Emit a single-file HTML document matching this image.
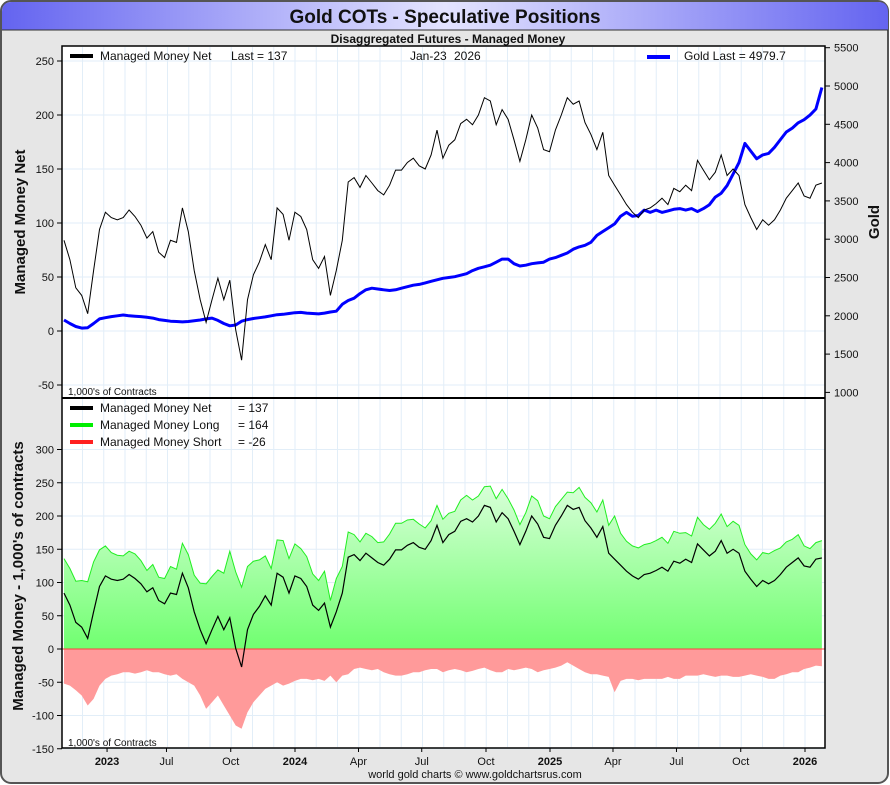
<!DOCTYPE html>
<html><head><meta charset="utf-8"><style>
html,body{margin:0;padding:0;background:#fff;}
svg{display:block;font-family:"Liberation Sans",sans-serif;}
</style></head><body>
<svg id="chart" width="890" height="785" viewBox="0 0 890 785">
<defs>
<linearGradient id="tbar" x1="0" x2="1" y1="0" y2="0">
<stop offset="0" stop-color="#6464f0"/><stop offset="0.5" stop-color="#e4e4ff"/><stop offset="1" stop-color="#6464f0"/>
</linearGradient>
<linearGradient id="gfill" x1="0" x2="0" y1="0" y2="1">
<stop offset="0" stop-color="#d8ffd8"/><stop offset="1" stop-color="#70ff70"/>
</linearGradient>
</defs>
<rect x="1" y="1" width="887" height="782" rx="10" fill="#e6e6e6" stroke="#555" stroke-width="2"/>
<path d="M2 30 L2 12 Q2 2 12 2 L878 2 Q888 2 888 12 L888 30 Z" fill="url(#tbar)"/>
<line x1="2" y1="30" x2="888" y2="30" stroke="#333" stroke-width="1"/>
<text x="445" y="23" text-anchor="middle" font-size="19" font-weight="bold" fill="#111">Gold COTs - Speculative Positions</text>
<text x="448" y="43" text-anchor="middle" font-size="12" font-weight="bold" fill="#111">Disaggregated Futures - Managed Money</text>
<rect x="62" y="46" width="763" height="702" fill="#fff"/>
<g id="gridG"></g>
<g id="bottomG"></g>
<g id="topG"></g>
<rect x="62" y="46" width="763" height="702" fill="none" stroke="#000" stroke-width="1.5"/>
<line x1="62" y1="398" x2="825" y2="398" stroke="#000" stroke-width="2"/>
<g id="axesG" font-size="11" fill="#111"></g>
<text transform="translate(25,222) rotate(-90)" text-anchor="middle" font-size="15" font-weight="bold" fill="#111">Managed Money Net</text>
<text transform="translate(879,222) rotate(-90)" text-anchor="middle" font-size="15" font-weight="bold" fill="#111">Gold</text>
<text transform="translate(23,576) rotate(-90)" text-anchor="middle" font-size="15" font-weight="bold" fill="#111">Managed Money - 1,000's of contracts</text>
<text x="68" y="395" font-size="10" fill="#111">1,000's of Contracts</text>
<text x="68" y="746" font-size="10" fill="#111">1,000's of Contracts</text>
<g font-size="12" fill="#111">
<line x1="70" y1="56" x2="93" y2="56" stroke="#000" stroke-width="4"/>
<text x="100" y="60">Managed Money Net</text>
<text x="231" y="60">Last = 137</text>
<text x="410" y="60">Jan-23</text>
<text x="454" y="60">2026</text>
<line x1="647" y1="57" x2="670" y2="57" stroke="#0000ff" stroke-width="4"/>
<text x="684" y="60">Gold Last = 4979.7</text>
</g>
<g font-size="12" fill="#111">
<line x1="70" y1="408" x2="93" y2="408" stroke="#000" stroke-width="4"/>
<text x="100" y="412">Managed Money Net</text><text x="238" y="412">= 137</text>
<line x1="70" y1="425" x2="93" y2="425" stroke="#00ee00" stroke-width="4"/>
<text x="100" y="429">Managed Money Long</text><text x="238" y="429">= 164</text>
<line x1="70" y1="442" x2="93" y2="442" stroke="#ff2020" stroke-width="4"/>
<text x="100" y="446">Managed Money Short</text><text x="238" y="446">= -26</text>
</g>
<text x="475" y="778" text-anchor="middle" font-size="11" fill="#111">world gold charts © www.goldchartsrus.com</text>
</svg>
<script>
const netValues=[84,66,40,33,16,56,94,110,105,103,105,112,106,98,86,92,73,68,84,82,114,92,56,29,8,29,49,29,47,1,-27,29,52,64,80,66,114,108,84,110,106,94,66,58,69,33,56,84,138,142,133,144,137,130,126,135,149,149,156,160,153,150,163,186,160,172,177,192,196,191,200,216,213,191,205,196,177,157,177,200,188,168,166,186,200,216,210,213,193,182,168,184,144,135,126,117,110,105,112,114,118,123,117,132,129,135,130,158,149,140,147,163,144,150,144,117,105,94,103,98,103,112,123,130,137,125,123,135,137];
const longValues=[136,121,102,103,101,131,149,155,145,141,140,147,143,133,118,127,108,106,124,120,159,142,111,99,98,109,119,114,147,116,93,124,132,134,140,121,164,163,136,158,151,139,113,103,117,73,106,124,176,172,161,174,169,160,161,173,189,189,194,195,188,182,193,216,195,204,207,224,231,224,230,244,245,226,240,226,209,187,205,230,223,200,196,214,225,236,235,243,228,220,206,224,186,200,174,162,155,152,157,159,163,168,159,177,174,175,170,198,187,180,189,203,184,192,186,157,143,134,145,143,148,152,161,165,172,155,151,160,163];
const shortValues=[-52,-55,-62,-70,-85,-75,-55,-45,-40,-38,-35,-35,-37,-35,-32,-35,-35,-38,-40,-38,-45,-50,-55,-70,-90,-80,-70,-85,-100,-115,-120,-95,-80,-70,-60,-55,-50,-55,-52,-48,-45,-45,-47,-45,-48,-40,-50,-40,-38,-30,-28,-30,-32,-30,-35,-38,-40,-40,-38,-35,-35,-32,-30,-30,-35,-32,-30,-32,-35,-33,-30,-28,-32,-35,-35,-30,-32,-30,-28,-30,-35,-32,-30,-28,-25,-20,-25,-30,-35,-38,-38,-40,-42,-65,-48,-45,-45,-47,-45,-45,-45,-45,-42,-45,-45,-40,-40,-40,-38,-40,-42,-40,-40,-42,-42,-40,-38,-40,-42,-45,-45,-40,-38,-35,-35,-30,-28,-25,-26];
const goldValues=[1945,1900,1860,1840,1845,1900,1960,1975,1990,2000,2010,2000,1995,1990,1980,1970,1950,1940,1930,1925,1920,1925,1935,1945,1960,1970,1940,1900,1870,1880,1930,1950,1965,1975,1985,2000,2015,2020,2030,2040,2045,2035,2030,2025,2035,2050,2060,2150,2200,2230,2290,2340,2360,2350,2340,2330,2340,2360,2380,2400,2410,2430,2450,2470,2490,2500,2510,2530,2550,2590,2620,2640,2660,2700,2740,2740,2680,2650,2660,2680,2690,2700,2740,2760,2790,2820,2870,2900,2920,2960,3050,3100,3150,3200,3300,3350,3300,3310,3380,3350,3380,3350,3370,3390,3400,3380,3400,3360,3400,3450,3550,3600,3700,3850,4000,4250,4150,4050,4100,4120,4200,4300,4400,4450,4520,4560,4620,4700,4980];
const startYear=2023.094, stepYears=0.02322;
const xTickLabels=["2023","Jul","Oct","2024","Apr","Jul","Oct","2025","Apr","Jul","Oct","2026"];
const xTickYears=[2023.263,2023.496,2023.748,2024,2024.249,2024.497,2024.749,2025,2025.247,2025.496,2025.748,2026];
const topLeftTicks=[-50,0,50,100,150,200,250];
const rightTicks=[1000,1500,2000,2500,3000,3500,4000,4500,5000,5500];
const bottomTicks=[-150,-100,-50,0,50,100,150,200,250,300];

const NS="http://www.w3.org/2000/svg";
const X=t=>295+(t-2024)*255;
const xi=i=>X(startYear+i*stepYears);
const yTop=v=>331-v*1.08;
const yGold=p=>86-(p-5000)*0.0766;
const yBot=v=>649-v*0.665;
function mk(tag,attrs,parent){const e=document.createElementNS(NS,tag);for(const k in attrs)e.setAttribute(k,attrs[k]);parent.appendChild(e);return e;}
const gridG=document.getElementById('gridG'),topG=document.getElementById('topG'),botG=document.getElementById('bottomG'),axesG=document.getElementById('axesG');

for(let m=0;m<40;m++){const t=2023+m/12;const x=X(t);if(x<63||x>824)continue;
 const g=mk('line',{x1:x,x2:x,y1:47,y2:747,stroke:'#e2eef8','stroke-width':1},gridG);
 
 }
topLeftTicks.forEach(v=>{const y=yTop(v);const g=mk('line',{x1:62,x2:825,y1:y,y2:y,stroke:'#e2eef8'},gridG);
 
 });
bottomTicks.forEach(v=>{const y=yBot(v);if(y<400)return;const g=mk('line',{x1:62,x2:825,y1:y,y2:y,stroke:'#e2eef8'},gridG);
 
 });

const n=netValues.length;
let d='M'+xi(0)+' '+yBot(0);
for(let i=0;i<n;i++)d+=' L'+xi(i).toFixed(1)+' '+yBot(longValues[i]).toFixed(1);
d+=' L'+xi(n-1)+' '+yBot(0)+' Z';
const lf=mk('path',{d:d,fill:'url(#gfill)'},botG);


const ll=mk('path',{d:'M'+longValues.map((v,i)=>xi(i).toFixed(1)+' '+yBot(v).toFixed(1)).join(' L'),fill:'none',stroke:'#22ee22','stroke-width':1},botG);


let ds='M'+xi(0)+' '+yBot(0);
for(let i=0;i<n;i++)ds+=' L'+xi(i).toFixed(1)+' '+yBot(shortValues[i]).toFixed(1);
ds+=' L'+xi(n-1)+' '+yBot(0)+' Z';
const sf=mk('path',{d:ds,fill:'#ff9a9a'},botG);


const zl=mk('line',{x1:62,x2:825,y1:yBot(0),y2:yBot(0),stroke:'#ff4040','stroke-width':1},botG);


const nb=mk('path',{d:'M'+netValues.map((v,i)=>xi(i).toFixed(1)+' '+yBot(v).toFixed(1)).join(' L'),fill:'none',stroke:'#000','stroke-width':1.2},botG);



const gl=mk('path',{d:'M'+goldValues.map((v,i)=>xi(i).toFixed(1)+' '+yGold(v).toFixed(1)).join(' L'),fill:'none',stroke:'#0000ff','stroke-width':3,'stroke-linejoin':'round'},topG);


const nt=mk('path',{d:'M'+netValues.map((v,i)=>xi(i).toFixed(1)+' '+yTop(v).toFixed(1)).join(' L'),fill:'none',stroke:'#000','stroke-width':1},topG);



topLeftTicks.forEach(v=>{const y=yTop(v);mk('line',{x1:57,x2:62,y1:y,y2:y,stroke:'#000'},axesG);
 const t=mk('text',{x:54,y:y+4,'text-anchor':'end'},axesG);t.textContent=v;
 
 });
rightTicks.forEach(v=>{const y=yGold(v);mk('line',{x1:825,x2:830,y1:y,y2:y,stroke:'#000'},axesG);
 const t=mk('text',{x:834,y:y+4},axesG);t.textContent=v;
 
 });
bottomTicks.forEach(v=>{const y=yBot(v);mk('line',{x1:57,x2:62,y1:y,y2:y,stroke:'#000'},axesG);
 const t=mk('text',{x:54,y:y+4,'text-anchor':'end'},axesG);t.textContent=v;
 
 });
xTickLabels.forEach((l,i)=>{const x=X(xTickYears[i]);mk('line',{x1:x,x2:x,y1:748,y2:752,stroke:'#000'},axesG);
 const t=mk('text',{x:x,y:765,'text-anchor':'middle','font-weight':/^\d/.test(l)?'bold':'normal'},axesG);t.textContent=l;
 
 });
</script>
</body></html>
